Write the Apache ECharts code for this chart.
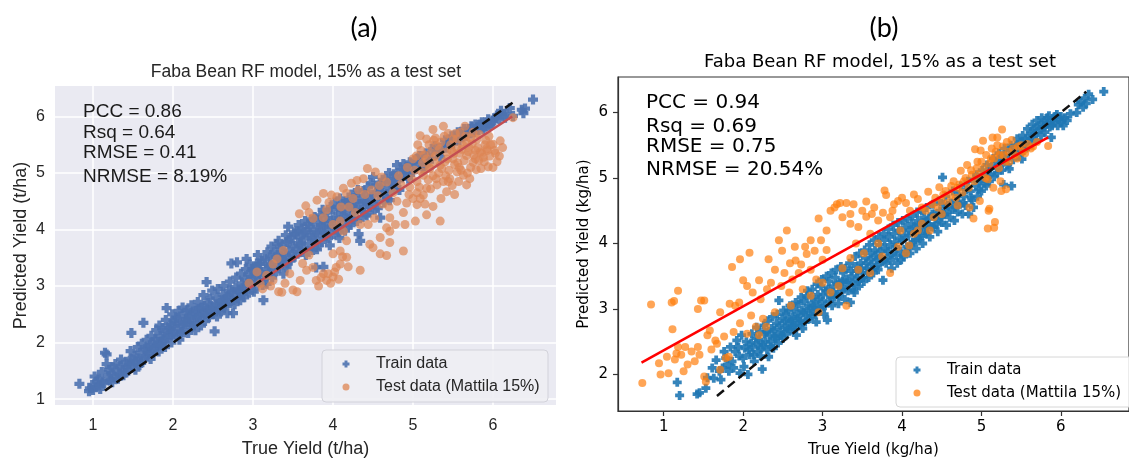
<!DOCTYPE html>
<html>
<head>
<meta charset="utf-8">
<script src="https://cdn.jsdelivr.net/npm/echarts@6/dist/echarts.min.js"></script>
<style>
  html, body { margin: 0; padding: 0; background: #ffffff; }
  #chart { width: 1129px; height: 463px; }
</style>
</head>
<body>
<div id="chart"></div>
<script>
// ---- Panel (a): true vs predicted yield, t/ha ----
const trainA = [
  [0.83,1.27],[0.95,1.14],[0.96,1.19],[0.99,1.25],[1.00,1.16],[1.03,1.22],[1.05,1.31],[1.07,1.36],[1.08,1.24],[1.11,1.48],
  [1.12,1.30],[1.15,1.82],[1.17,1.79],[1.17,1.62],[1.19,1.41],[1.21,1.33],[1.23,1.45],[1.25,1.56],[1.27,1.38],[1.30,1.49],
  [1.33,1.44],[1.34,1.59],[1.37,1.52],[1.40,1.47],[1.42,1.56],[1.45,1.61],[1.46,1.68],[1.48,2.17],[1.50,1.58],[1.52,1.77],
  [1.54,1.66],[1.57,1.72],[1.59,1.82],[1.60,1.64],[1.63,2.35],[1.65,1.88],[1.66,1.76],[1.69,1.91],[1.70,1.80],[1.72,1.71],
  [1.75,2.00],[1.76,1.86],[1.78,2.06],[1.80,1.94],[1.82,1.84],[1.84,2.11],[1.86,2.02],[1.88,2.17],[1.90,1.92],[1.92,2.61],
  [1.93,2.08],[1.95,2.27],[1.96,2.23],[1.98,2.00],[2.00,2.14],[2.02,2.38],[2.03,2.35],[2.05,2.11],[2.06,2.24],[2.08,2.05],
  [2.09,2.46],[2.11,2.30],[2.13,2.32],[2.14,2.18],[2.16,2.42],[2.17,2.52],[2.19,2.17],[2.20,2.36],[2.22,2.27],[2.24,2.48],
  [2.25,2.55],[2.27,2.35],[2.28,2.22],[2.30,2.44],[2.32,2.60],[2.34,2.41],[2.35,2.30],[2.37,2.52],[2.39,2.66],[2.40,2.38],
  [2.42,3.07],[2.43,2.58],[2.45,2.45],[2.46,2.78],[2.48,2.61],[2.50,2.50],[2.52,2.20],[2.53,2.68],[2.55,2.46],[2.57,2.62],
  [2.59,2.70],[2.60,2.55],[2.62,2.85],[2.64,2.64],[2.66,2.76],[2.67,2.81],[2.68,2.52],[2.70,2.92],[2.72,2.70],[2.73,3.40],
  [2.75,2.52],[2.76,2.84],[2.78,2.98],[2.80,3.42],[2.81,2.78],[2.83,2.90],[2.84,2.75],[2.86,3.05],[2.88,2.86],[2.90,3.12],
  [2.92,3.48],[2.92,2.99],[2.94,3.20],[2.95,2.88],[2.97,3.08],[2.99,3.30],[3.00,3.28],[3.02,2.96],[3.03,3.18],[3.05,3.40],
  [3.07,3.10],[3.09,3.39],[3.10,3.25],[3.12,3.02],[3.13,2.75],[3.15,3.48],[3.16,3.30],[3.17,3.04],[3.19,3.20],[3.21,3.51],
  [3.22,3.38],[3.24,3.15],[3.26,3.60],[3.27,3.42],[3.29,3.26],[3.30,3.74],[3.31,3.55],[3.33,3.35],[3.35,3.65],[3.36,3.48],
  [3.38,3.22],[3.40,3.58],[3.42,3.33],[3.42,3.78],[3.44,4.05],[3.45,3.62],[3.47,3.45],[3.48,3.86],[3.50,3.70],[3.52,3.52],
  [3.53,3.92],[3.55,3.97],[3.56,3.76],[3.58,3.60],[3.59,3.86],[3.61,4.02],[3.62,3.68],[3.64,3.84],[3.66,3.55],[3.67,3.95],
  [3.69,4.10],[3.70,3.75],[3.72,3.90],[3.73,4.18],[3.75,3.64],[3.76,4.00],[3.78,3.82],[3.79,3.33],[3.80,3.65],[3.81,4.12],
  [3.83,3.94],[3.84,4.25],[3.86,3.78],[3.88,3.34],[3.88,4.05],[3.90,4.20],[3.91,3.88],[3.93,4.30],[3.95,4.00],[3.96,3.72],
  [3.98,4.15],[4.00,4.35],[4.01,3.92],[4.03,4.22],[4.05,4.05],[4.06,4.40],[4.08,3.85],[4.10,4.28],[4.12,4.12],[4.13,4.45],
  [4.15,3.98],[4.17,4.33],[4.19,4.20],[4.20,4.52],[4.22,4.08],[4.24,4.40],[4.26,4.28],[4.28,4.60],[4.30,4.15],[4.32,3.92],
  [4.33,4.45],[4.34,3.80],[4.36,4.32],[4.38,4.68],[4.40,4.50],[4.42,4.25],[4.44,4.75],[4.46,4.40],[4.48,4.58],[4.50,4.93],
  [4.52,4.35],[4.55,4.66],[4.57,4.50],[4.59,4.21],[4.60,4.80],[4.63,4.62],[4.66,4.90],[4.68,4.55],[4.71,4.52],[4.73,4.85],
  [4.76,4.98],[4.78,4.73],[4.80,5.14],[4.82,4.88],[4.85,5.05],[4.88,5.16],[4.90,4.95],[4.92,5.10],[4.94,4.90],[4.96,5.19],
  [4.98,5.02],[5.02,5.22],[5.05,5.14],[5.08,5.30],[5.12,5.08],[5.16,5.35],[5.20,5.20],[5.25,5.42],[5.30,5.37],[5.34,5.28],
  [5.38,5.50],[5.42,5.45],[5.46,5.58],[5.50,5.52],[5.54,5.64],[5.58,5.58],[5.62,5.70],[5.66,5.66],[5.70,5.78],[5.73,5.83],
  [5.76,5.72],[5.80,5.80],[5.84,5.86],[5.88,5.78],[5.92,5.89],[5.96,5.84],[6.00,5.92],[6.03,5.98],[6.08,5.95],[6.12,6.04],
  [6.17,6.04],[6.21,6.15],[6.25,6.01],[6.36,6.12],[6.38,6.06],[6.50,6.30],
  [1.02,1.40],[1.09,1.18],[1.14,1.28],[1.20,1.52],[1.24,1.30],[1.28,1.62],[1.31,1.36],[1.35,1.70],[1.38,1.42],[1.41,1.66],
  [1.44,1.50],[1.47,1.85],[1.51,1.70],[1.53,1.52],[1.56,1.92],[1.58,1.60],[1.61,1.98],[1.64,1.70],[1.67,2.05],[1.68,1.84],
  [1.71,1.95],[1.73,2.12],[1.77,1.92],[1.79,2.22],[1.81,2.00],[1.83,2.30],[1.85,1.95],[1.87,2.26],[1.89,2.05],[1.91,2.40],
  [1.94,2.15],[1.97,2.32],[1.99,2.50],[2.01,2.20],[2.04,2.44],[2.07,2.56],[2.10,2.18],[2.12,2.62],[2.15,2.36],[2.18,2.58],
  [2.21,2.44],[2.23,2.66],[2.26,2.30],[2.29,2.56],[2.31,2.72],[2.33,2.48],[2.36,2.62],[2.38,2.84],[2.41,2.50],[2.44,2.70],
  [2.47,2.56],[2.49,2.92],[2.51,2.62],[2.54,2.80],[2.56,2.95],[2.58,2.58],[2.61,2.74],[2.63,3.00],[2.65,2.68],[2.69,2.82],
  [2.71,3.08],[2.74,2.90],[2.77,2.68],[2.79,3.15],[2.82,2.94],[2.85,3.22],[2.87,2.96],[2.89,2.80],[2.91,3.30],[2.93,3.05],
  [2.96,3.38],[2.98,3.16],[3.01,2.90],[3.04,3.34],[3.06,3.55],[3.08,3.22],[3.11,3.45],[3.14,3.12],[3.18,3.60],[3.20,3.35],
  [3.23,3.70],[3.25,3.28],[3.28,3.52],[3.32,3.80],[3.34,3.42],[3.37,3.72],[3.39,3.50],[3.41,3.90],[3.43,3.40],[3.46,3.80],
  [3.49,3.55],[3.51,3.95],[3.54,3.66],[3.57,4.08],[3.60,3.75],[3.63,3.95],[3.65,4.15],[3.68,3.62],[3.71,4.05],[3.74,3.85],
  [3.77,4.22],[3.80,3.95],[3.82,3.72],[3.85,4.08],[3.87,4.35],[3.89,3.95],[3.92,4.12],[3.94,3.85],[3.97,4.40],[3.99,4.05],
  [4.02,4.48],[4.04,4.15],[4.07,3.95],[4.09,4.55],[4.11,4.35],[4.14,4.22],[4.16,4.50],[4.18,4.05],[4.21,4.42],[4.23,4.62],
  [4.25,4.18],[4.27,4.48],[4.29,4.35],[4.31,4.70],[4.35,4.55],[4.37,4.22],[4.39,4.40],[4.41,4.62],[4.43,4.48],[4.45,4.30],
  [4.47,4.82],[4.49,4.62],[4.51,4.45],[4.54,4.78],[4.56,4.38],[4.58,4.70],[4.62,4.88],[4.64,4.48],[4.67,4.75],[4.70,5.00],
  [4.72,4.68],[4.75,4.82],[4.79,4.95],[4.83,4.70],[4.86,4.92],[4.89,5.06],[4.93,5.00],[4.97,5.08],[5.00,5.02],[5.06,5.26],
  [5.10,5.20],[5.14,5.12],[5.18,5.30],[5.23,5.26],[5.27,5.48],[5.32,5.44],[5.36,5.40],[5.40,5.58],[5.44,5.52],[5.48,5.65],
  [5.52,5.60],[5.56,5.72],[5.60,5.66],[5.64,5.78],[5.68,5.72],[5.72,5.70],[5.78,5.86],[5.82,5.76],[5.86,5.90],[5.90,5.82],
  [5.94,5.95],[5.98,5.88],[6.05,6.02],[6.10,6.10],[6.15,5.98],[6.40,6.14]
];
const testA = [
  [2.95,3.05],[3.05,3.25],[3.09,3.04],[3.12,2.95],[3.17,3.19],[3.22,3.00],[3.25,3.39],[3.25,3.10],[3.30,3.48],[3.32,2.90],
  [3.36,2.89],[3.38,3.63],[3.40,3.05],[3.46,3.22],[3.50,2.93],[3.55,2.90],[3.59,3.10],[3.62,3.40],[3.67,3.28],[3.70,3.55],
  [3.75,3.33],[3.79,3.10],[3.82,3.00],[3.85,3.15],[3.88,3.22],[3.92,3.10],[3.94,3.22],[3.97,3.05],[4.00,3.16],[4.02,3.25],
  [4.04,3.33],[4.07,3.12],[4.09,3.39],[4.12,3.52],[4.17,3.51],[4.19,3.34],[4.00,3.57],[4.09,3.62],[4.34,3.28],[4.46,3.74],
  [4.50,3.68],[4.59,3.57],[4.67,3.54],[4.71,3.77],[4.88,3.62],[4.17,3.80],[4.59,3.86],[4.13,3.97],[4.71,3.97],[4.00,4.09],
  [4.09,4.15],[4.34,4.09],[4.44,4.09],[4.67,4.03],[4.78,4.09],[4.90,4.09],[5.03,4.15],[5.17,4.26],[5.25,4.41],[5.34,4.15],
  [3.88,4.21],[4.71,4.21],[4.92,4.47],[5.05,4.44],[5.09,4.55],
  [3.66,4.42],[3.80,4.52],[3.88,4.64],[3.98,4.61],[4.05,4.58],[4.13,4.73],[4.17,4.64],[4.23,4.82],[4.30,4.87],[4.38,4.90],
  [4.43,5.08],[4.53,5.02],[4.61,4.93],[4.67,4.84],[3.70,4.30],[3.95,4.48],[4.25,4.55],[4.48,4.70],[4.56,4.60],[4.75,4.65],
  [4.85,4.80],[4.95,4.62],[3.58,4.28],
  [5.09,5.66],[5.17,5.60],[5.25,5.77],[5.38,5.83],[5.30,5.48],[5.42,5.37],[5.55,5.43],[5.67,5.31],[5.75,5.19],[5.84,5.37],
  [5.92,5.43],[6.00,5.51],[5.94,5.11],[5.82,5.22],[6.09,5.57],[6.25,5.98],[5.46,4.90],[5.55,5.02],[5.63,4.96],[5.67,4.79],
  [5.34,5.14],[5.21,5.08],[5.13,4.96],[5.17,5.25],[5.00,5.25],[5.30,4.79],[5.42,4.67],[5.17,4.73],[5.13,4.61],[5.50,5.60],
  [5.67,5.54],[5.59,5.72],[5.75,5.72],[5.65,5.83],[5.50,5.25],[5.05,4.85],[5.10,5.40],[5.20,5.50],[5.28,5.30],[5.35,5.55],
  [5.40,5.20],[5.45,5.05],[5.48,5.40],[5.52,5.15],[5.58,5.35],[5.60,5.05],[5.62,5.50],[5.70,5.45],[5.72,5.10],[5.78,5.40],
  [5.80,5.60],[5.88,5.28],[5.90,5.50],[5.96,5.30],[6.02,5.40],[6.05,5.20],[5.25,4.95],[5.32,5.00],[5.38,4.85],[5.22,4.72],
  [5.05,4.65],[4.98,4.90],[5.02,5.05],[5.12,5.18],[5.35,4.55],[5.28,5.62],[5.44,5.70],[5.55,5.60],[5.72,5.62],[5.85,5.08],
  [6.12,5.45],[5.95,5.65],[5.68,5.00],[5.78,5.25],[6.00,5.10],
  [5.06,5.50],[5.11,5.02],[5.14,5.32],[5.19,4.88],[5.23,5.36],[5.27,5.18],[5.29,4.90],[5.33,5.42],[5.36,5.08],[5.39,5.65],
  [5.41,4.95],[5.43,5.25],[5.47,5.50],[5.49,4.78],[5.51,5.35],[5.53,5.70],[5.56,5.18],[5.57,4.85],[5.61,5.42],[5.64,5.22],
  [5.66,5.65],[5.69,5.38],[5.71,4.90],[5.74,5.52],[5.76,5.32],[5.79,5.06],[5.81,5.45],[5.83,5.68],[5.86,5.35],[5.89,5.20],
  [5.91,5.58],[5.93,5.40],[5.97,5.50],[6.03,5.35],[6.08,5.30],[4.93,5.10],[4.96,4.75],[5.00,4.55],[5.04,5.30],[5.08,4.75],
  [5.15,4.45],[5.20,5.10],[5.26,5.58],[5.44,4.85],[5.52,4.62],[5.58,5.10],[4.62,4.45],[4.70,4.40],[4.80,4.50],[4.88,4.30],
  [4.82,4.95],[4.58,4.78],[4.40,4.62],[4.32,4.70],[4.20,4.40],[4.10,4.40],[3.92,4.35],[3.75,4.20],[4.28,4.30],[4.52,4.20]
];
const identityA = [[1.15, 1.15], [6.25, 6.25]];
const fitA = [[2.92, 2.93], [6.24, 6.00]];
const statsA = ['PCC = 0.86', 'Rsq = 0.64', 'RMSE = 0.41', 'NRMSE = 8.19%'];

// ---- Panel (b): true vs predicted yield, kg/ha ----
const trainB = [
  [1.17,1.88],[1.20,1.68],[1.42,1.70],[1.45,1.72],[1.53,1.79],[1.61,2.10],[1.63,1.94],[1.70,2.05],[1.74,2.10],[1.78,2.25],
  [1.82,2.05],[1.86,2.20],[1.90,2.35],[1.94,2.42],[1.96,2.02],[2.00,2.25],[2.02,2.40],[2.06,2.00],[2.08,2.30],[2.10,2.48],
  [2.12,2.42],[2.14,2.20],[2.16,2.55],[2.18,2.35],[2.20,2.53],[2.22,2.28],[2.24,2.08],[2.25,2.45],[2.27,2.62],[2.29,2.65],
  [2.30,2.38],[2.32,2.27],[2.34,2.50],[2.36,2.70],[2.38,2.40],[2.40,2.58],[2.42,2.78],[2.44,2.48],[2.45,3.13],[2.47,2.65],
  [2.49,2.85],[2.50,2.55],[2.52,2.72],[2.54,2.92],[2.55,2.62],[2.57,2.98],[2.58,2.80],[2.60,2.68],[2.62,2.88],[2.64,3.00],
  [2.65,2.75],[2.67,2.60],[2.68,2.92],[2.70,3.08],[2.72,2.82],[2.74,2.98],[2.75,2.70],[2.77,3.12],[2.79,2.90],[2.81,3.28],
  [2.82,3.05],[2.84,2.85],[2.86,3.18],[2.88,2.98],[2.90,3.10],[2.92,2.80],[2.94,3.22],[2.96,3.02],[2.98,3.35],[3.00,3.12],
  [3.02,2.92],[3.04,3.28],[3.06,2.83],[3.08,3.42],[3.10,3.18],[3.12,3.05],[3.14,3.35],[3.16,3.48],[3.18,3.22],[3.20,3.08],
  [3.22,3.40],[3.24,3.30],[3.26,3.55],[3.28,3.15],[3.30,3.45],[3.32,3.28],[3.35,3.10],[3.36,3.58],[3.38,3.40],[3.40,3.25],
  [3.42,3.65],[3.44,3.48],[3.46,3.35],[3.48,3.70],[3.50,3.55],[3.52,3.42],[3.54,3.78],[3.56,3.62],[3.58,3.48],[3.60,3.85],
  [3.62,3.68],[3.64,3.55],[3.66,3.90],[3.68,3.75],[3.70,3.60],[3.72,3.98],[3.74,3.80],[3.76,3.44],[3.78,4.05],[3.80,3.70],
  [3.82,3.88],[3.84,4.10],[3.86,3.75],[3.88,3.84],[3.90,4.15],[3.92,3.95],[3.94,3.70],[3.96,4.20],[3.98,3.88],[4.00,4.05],
  [4.02,3.80],[4.04,4.25],[4.06,3.95],[4.08,4.12],[4.10,3.85],[4.12,4.30],[4.14,4.02],[4.16,4.18],[4.18,3.92],[4.20,4.35],
  [4.22,4.08],[4.24,4.25],[4.26,4.00],[4.28,4.40],[4.30,4.15],[4.32,4.30],[4.35,4.10],[4.38,4.45],[4.40,4.25],[4.42,4.38],
  [4.45,4.18],[4.48,4.50],[4.50,4.32],[4.51,5.01],[4.53,4.45],[4.56,4.28],[4.58,4.58],[4.60,4.40],[4.63,4.52],[4.66,4.35],
  [4.68,4.65],[4.70,4.48],[4.73,4.60],[4.76,4.45],[4.78,4.72],[4.80,4.58],[4.84,4.45],[4.86,4.80],[4.88,4.66],[4.90,4.55],
  [4.93,4.88],[4.95,4.72],[4.98,4.95],[5.00,4.80],[5.03,5.02],[5.06,4.88],[5.08,5.10],[5.10,4.95],[5.13,5.18],[5.16,5.02],
  [5.18,5.25],[5.20,5.08],[5.23,5.30],[5.26,5.12],[5.28,4.90],[5.30,5.35],[5.33,5.20],[5.35,5.14],[5.36,5.42],[5.38,4.88],
  [5.40,5.28],[5.43,5.50],[5.46,5.35],[5.49,5.55],[5.51,5.29],[5.53,5.42],[5.56,5.60],[5.59,5.48],[5.62,5.68],[5.63,5.52],
  [5.66,5.75],[5.69,5.58],[5.72,5.80],[5.75,5.65],[5.78,5.85],[5.80,5.70],[5.83,5.92],[5.86,5.78],[5.88,5.62],[5.90,5.88],
  [5.93,5.94],[5.96,5.80],[5.98,5.90],[6.01,5.85],[6.05,5.92],[6.08,5.88],[6.20,6.00],[6.22,6.12],[6.25,6.16],[6.30,6.22],
  [6.35,6.28],[6.40,6.20],[6.54,6.32],
  [1.55,1.95],[1.66,2.22],[1.72,1.92],[1.76,2.35],[1.80,2.15],[1.84,2.42],[1.88,2.10],[1.92,2.52],[1.95,2.28],[1.98,2.60],
  [2.01,2.12],[2.04,2.50],[2.07,2.38],[2.11,2.62],[2.13,2.30],[2.17,2.72],[2.19,2.45],[2.21,2.65],[2.23,2.40],[2.26,2.75],
  [2.28,2.50],[2.31,2.82],[2.33,2.60],[2.35,2.42],[2.37,2.88],[2.39,2.68],[2.41,2.55],[2.43,2.92],[2.46,2.75],[2.48,2.60],
  [2.51,2.98],[2.53,2.82],[2.56,2.70],[2.59,3.05],[2.61,2.82],[2.63,2.72],[2.66,3.10],[2.69,2.86],[2.71,2.76],[2.73,3.18],
  [2.76,2.95],[2.78,2.80],[2.80,3.20],[2.83,3.00],[2.85,2.90],[2.87,3.30],[2.89,3.05],[2.91,2.92],[2.93,3.38],[2.95,3.15],
  [2.97,3.00],[2.99,3.45],[3.01,3.22],[3.03,3.05],[3.05,3.50],[3.07,3.30],[3.09,3.12],[3.11,3.55],[3.13,3.25],[3.15,3.18],
  [3.17,3.60],[3.19,3.38],[3.21,3.20],[3.23,3.65],[3.25,3.42],[3.27,3.30],[3.29,3.62],[3.31,3.40],[3.34,3.70],[3.37,3.50],
  [3.39,3.30],[3.41,3.80],[3.43,3.58],[3.45,3.42],[3.47,3.85],[3.49,3.62],[3.51,3.48],[3.53,3.90],[3.55,3.70],[3.57,3.55],
  [3.59,3.98],[3.61,3.76],[3.63,3.60],[3.65,4.05],[3.67,3.82],[3.69,3.66],[3.71,4.10],[3.73,3.88],[3.75,3.72],[3.77,4.15],
  [3.79,3.92],[3.81,3.78],[3.83,4.22],[3.85,3.98],[3.87,3.62],[3.89,4.28],[3.91,4.02],[3.93,3.82],[3.95,4.32],[3.97,4.08],
  [3.99,3.75],[4.01,4.35],[4.03,4.12],[4.05,3.88],[4.07,4.38],[4.09,4.20],[4.11,3.98],[4.13,4.42],[4.15,4.25],[4.17,4.05],
  [4.19,4.48],[4.21,4.28],[4.23,4.12],[4.25,4.50],[4.27,4.32],[4.29,4.20],[4.31,4.55],[4.34,4.38],[4.37,4.25],[4.39,4.60],
  [4.41,4.45],[4.44,4.30],[4.46,4.65],[4.49,4.40],[4.52,4.60],[4.55,4.72],[4.57,4.48],[4.61,4.62],[4.64,4.80],[4.67,4.55],
  [4.71,4.75],[4.74,4.88],[4.77,4.62],[4.81,4.82],[4.83,4.95],[4.87,4.70],[4.91,4.98],[4.94,5.05],[4.97,4.82],[5.01,5.12],
  [5.04,4.92],[5.07,5.20],[5.11,5.05],[5.15,5.30],[5.19,5.15],[5.22,5.38],[5.25,5.22],[5.29,5.45],[5.32,5.30],[5.37,5.50],
  [5.41,5.40],[5.45,5.60],[5.48,5.45],[5.52,5.65],[5.55,5.50],[5.58,5.75],[5.61,5.60],[5.64,5.82],[5.67,5.68],[5.70,5.88],
  [5.73,5.74],[5.76,5.92],[5.79,5.78],[5.82,5.84],[5.85,5.95],[5.89,5.80],[5.92,5.86],[5.95,5.97],[6.00,5.94],[6.03,5.80],
  [6.12,5.98],[6.28,6.08],[6.32,6.14]
];
const testB = [
  [0.73,1.87],[0.84,3.07],[0.94,2.17],[0.96,2.00],[1.04,2.27],[1.06,2.02],[1.10,3.10],[1.11,2.69],[1.13,3.12],[1.14,2.23],
  [1.16,2.32],[1.18,3.28],[1.18,2.42],[1.22,2.30],[1.25,2.05],[1.27,2.42],[1.30,2.15],[1.35,2.35],[1.39,2.20],[1.43,3.00],
  [1.43,2.42],[1.45,2.30],[1.47,3.13],[1.51,3.13],[1.51,1.97],[1.53,1.89],[1.55,2.60],[1.58,2.67],[1.60,2.38],[1.65,2.52],
  [1.67,2.47],[1.71,2.07],[1.71,2.95],[1.76,2.58],[1.78,2.25],[1.82,2.27],[1.83,3.08],[1.86,3.64],[1.88,2.65],[1.90,3.05],
  [1.96,2.78],[1.96,3.76],[2.00,3.44],[2.05,3.35],[2.08,3.86],[2.10,2.90],[2.16,2.73],[2.20,2.60],[2.20,3.44],[2.22,3.15],
  [2.29,2.73],[2.32,3.76],[2.35,3.40],[2.40,3.60],[2.45,4.05],[2.49,3.89],[2.52,3.55],[2.55,4.20],[2.59,3.70],[2.62,3.45],
  [2.66,3.74],[2.70,3.55],[2.73,3.68],[2.78,3.95],[2.80,3.84],[2.85,3.60],[2.90,3.89],[2.95,4.38],[2.98,4.05],[3.05,4.20],
  [3.00,3.75],[3.10,4.50],[3.15,4.55],[3.18,4.60],[3.22,4.62],[3.25,4.40],[3.30,4.62],[3.35,4.30],[3.39,4.60],[3.42,4.00],
  [3.45,4.25],[3.50,4.50],[3.55,4.64],[3.55,4.41],[3.60,4.15],[3.65,4.55],[3.70,4.35],[3.76,4.47],[3.78,4.81],[3.80,4.74],
  [3.85,4.40],[3.90,4.60],[3.95,4.65],[4.00,4.70],[4.05,4.62],[4.10,4.50],[4.15,4.75],[4.20,4.68],[4.25,4.55],[4.33,4.79],
  [4.38,4.60],[4.42,4.70],[4.47,4.86],[4.50,4.65],[4.55,4.80],[4.61,4.73],[4.65,4.95],[4.70,4.85],[4.74,5.11],[4.78,4.95],
  [4.82,5.20],[4.85,4.55],[4.88,5.05],[4.90,4.38],[4.92,5.44],[4.95,5.25],[4.99,5.42],[5.02,5.57],[5.05,5.00],[5.08,4.98],
  [5.08,4.23],[5.10,4.53],[5.12,5.30],[5.14,5.62],[5.17,4.33],[5.18,5.40],[5.22,5.15],[5.25,4.80],[5.26,5.74],[5.28,5.35],
  [5.31,4.83],[5.32,5.55],[5.35,5.25],[5.40,5.45],[5.45,5.30],[5.50,5.50],[5.55,5.38],[5.62,5.45],[5.70,5.55],[5.84,5.49],
  [3.10,3.25],[3.30,3.05],[3.45,3.60],[3.60,3.55],[3.75,3.80],[3.85,3.55],[3.95,3.95],[4.05,3.85],[4.09,3.97],[4.15,4.15],
  [4.25,4.30],[4.35,4.20],[4.50,4.45],[2.85,3.20],[3.00,3.40],[2.95,2.95],[3.20,3.35],[5.09,4.50],[5.16,4.24],
  [4.30,4.50],[4.45,4.55],[4.52,4.75],[4.58,4.62],[4.62,4.88],[4.68,4.70],[4.72,4.90],[4.76,4.78],[4.80,5.00],[4.84,4.85],
  [4.87,5.12],[4.91,4.95],[4.94,5.15],[4.97,5.05],[5.00,5.25],[5.03,5.15],[5.06,5.35],[5.10,5.22],[5.13,5.45],[5.16,5.30],
  [5.20,5.50],[5.23,5.35],[5.27,5.48],[5.30,5.25],[5.34,5.40],[5.38,5.58],[5.42,5.35],[5.46,5.48],[5.52,5.40],[5.58,5.52],
  [5.65,5.48],[5.20,5.62],[5.24,4.95],[5.15,4.85],[4.98,4.65],[4.70,4.58],[4.40,4.40],[4.20,4.20],[3.98,4.20],[3.70,4.00],
  [3.52,3.85],[3.35,3.78],[3.25,3.62],[2.92,3.45],[2.75,3.30],[2.60,3.05],[2.40,2.95],[2.25,2.85],[2.05,2.62],[1.95,3.10],
  [2.12,3.25],[2.30,3.30],[2.48,3.35],[2.58,3.25],[2.65,3.95],[2.85,4.05],[3.05,3.90],[3.35,4.45],[3.62,4.45],[3.88,4.50]
];
const identityB = [[1.67, 1.67], [6.32, 6.32]];
const fitB = [[0.72, 2.18], [5.84, 5.62]];
const statsB = ['PCC = 0.94', 'Rsq = 0.69', 'RMSE = 0.75', 'NRMSE = 20.54%'];

// ---- shared labels ----
const xTicks = [1, 2, 3, 4, 5, 6];
const yTicksA = [1, 2, 3, 4, 5, 6];
const yTicksB = [2, 3, 4, 5, 6];
const panelTitle = 'Faba Bean RF model, 15% as a test set';
const trainName = 'Train data';
const testName = 'Test data (Mattila 15%)';

// filled "plus" marker, arm width 0.42 of the box
const plusMarker = 'path://M0.29,0H0.71V0.29H1V0.71H0.71V1H0.29V0.71H0V0.29H0.29Z';

const FONT_A = 'Liberation Sans, Arial, sans-serif';
const FONT_B = 'DejaVu Sans, sans-serif';
const INK_A = '#262626';

const colA = { train: '#4C72B0', test: '#DD8452', fit: '#C44E52' };
const colB = { train: '#1f77b4', test: '#ff7f0e', fit: '#ff0000' };

function statTexts(lines, x, ys, font, color) {
  return lines.map((t, i) => ({
    type: 'text', x: x, y: ys[i], z: 20, silent: true,
    style: { text: t, font: font, fill: color, align: 'left', verticalAlign: 'middle' }
  }));
}

// plus-shaped legend glyph centred on (cx, cy), half-size h
function plusGlyph(cx, cy, h) {
  const a = h * 0.42;
  return [
    [cx - a, cy - h], [cx + a, cy - h], [cx + a, cy - a], [cx + h, cy - a], [cx + h, cy + a], [cx + a, cy + a],
    [cx + a, cy + h], [cx - a, cy + h], [cx - a, cy + a], [cx - h, cy + a], [cx - h, cy - a], [cx - a, cy - a]
  ];
}

// legend block: frame, marker glyphs and the two entry labels
function legendBlock(box, markerX, textX, rowY, colors, font, ink, frame) {
  return [
    { type: 'rect', z: 15, silent: true,
      shape: { x: box[0], y: box[1], width: box[2], height: box[3], r: 4 },
      style: { fill: frame.fill, stroke: frame.stroke, lineWidth: 1 } },
    { type: 'polygon', z: 16, silent: true,
      shape: { points: plusGlyph(markerX, rowY[0], 3.5) },
      style: { fill: colors.train, opacity: 0.9 } },
    { type: 'circle', z: 16, silent: true,
      shape: { cx: markerX, cy: rowY[1], r: 3.5 },
      style: { fill: colors.test, opacity: 0.75 } },
    { type: 'text', z: 16, silent: true, x: textX, y: rowY[0],
      style: { text: trainName, font: font, fill: ink, align: 'left', verticalAlign: 'middle' } },
    { type: 'text', z: 16, silent: true, x: textX, y: rowY[1],
      style: { text: testName, font: font, fill: ink, align: 'left', verticalAlign: 'middle' } }
  ];
}

const chart = echarts.init(document.getElementById('chart'), null, { renderer: 'canvas' });

chart.setOption({
  animation: false,
  backgroundColor: '#ffffff',
  grid: [
    { left: 55, top: 86, width: 501, height: 324, show: true, backgroundColor: '#EAEAF2', borderWidth: 0 },
    { left: 618, top: 77, width: 525, height: 338, show: true, backgroundColor: 'transparent', borderColor: '#333333', borderWidth: 1.2 }
  ],
  xAxis: [
    {
      gridIndex: 0, type: 'value', min: 0.525, max: 6.7875,
      axisLine: { show: false },
      axisTick: { show: false, customValues: xTicks },
      axisLabel: { customValues: xTicks, color: INK_A, fontSize: 16, fontFamily: FONT_A, margin: 13 },
      splitLine: { show: true, lineStyle: { color: '#ffffff', width: 1.5 } },
      name: 'True Yield (t/ha)', nameLocation: 'middle', nameGap: 35,
      nameTextStyle: { color: INK_A, fontSize: 18, fontFamily: FONT_A }
    },
    {
      gridIndex: 1, type: 'value', min: 0.424, max: 6.858,
      axisLine: { show: true, lineStyle: { color: '#333333', width: 1.2 } },
      axisTick: { show: true, customValues: xTicks, length: 5, lineStyle: { color: '#333333', width: 1.2 } },
      axisLabel: { customValues: xTicks, color: '#000000', fontSize: 15, fontFamily: FONT_B, margin: 9 },
      splitLine: { show: false },
      name: 'True Yield (kg/ha)', nameLocation: 'middle', nameGap: 32,
      nameTextStyle: { color: '#000000', fontSize: 15, fontFamily: FONT_B }
    }
  ],
  yAxis: [
    {
      gridIndex: 0, type: 'value', min: 0.8955, max: 6.540,
      axisLine: { show: false },
      axisTick: { show: false, customValues: yTicksA },
      axisLabel: { customValues: yTicksA, color: INK_A, fontSize: 16, fontFamily: FONT_A, margin: 10 },
      splitLine: { show: true, lineStyle: { color: '#ffffff', width: 1.5 } },
      name: 'Predicted Yield (t/ha)', nameLocation: 'middle', nameGap: 25,
      nameTextStyle: { color: INK_A, fontSize: 18, fontFamily: FONT_A }
    },
    {
      gridIndex: 1, type: 'value', min: 1.4415, max: 6.543,
      axisLine: { show: true, lineStyle: { color: '#333333', width: 1.2 } },
      axisTick: { show: true, customValues: yTicksB, length: 5, lineStyle: { color: '#333333', width: 1.2 } },
      axisLabel: { customValues: yTicksB, color: '#000000', fontSize: 15, fontFamily: FONT_B, margin: 10 },
      splitLine: { show: false },
      name: 'Predicted Yield (kg/ha)', nameLocation: 'middle', nameGap: 26,
      nameTextStyle: { color: '#000000', fontSize: 15, fontFamily: FONT_B }
    }
  ],
  graphic: [
    // panel letters
    { type: 'text', x: 364, y: 28, z: 20, silent: true,
      style: { text: '(a)', font: '27px Lato, Carlito, sans-serif', fill: '#000000', align: 'center', verticalAlign: 'middle' } },
    { type: 'text', x: 884, y: 28, z: 20, silent: true,
      style: { text: '(b)', font: '27px Lato, Carlito, sans-serif', fill: '#000000', align: 'center', verticalAlign: 'middle' } },
    // panel titles
    { type: 'text', x: 306, y: 72, z: 20, silent: true,
      style: { text: panelTitle, font: '17.5px ' + FONT_A, fill: INK_A, align: 'center', verticalAlign: 'middle' } },
    { type: 'text', x: 880, y: 62, z: 20, silent: true,
      style: { text: panelTitle, font: '18px ' + FONT_B, fill: '#000000', align: 'center', verticalAlign: 'middle' } }
  ]
    .concat(statTexts(statsA, 83, [112, 133, 153, 177], '19px ' + FONT_A, '#1a1a1a'))
    .concat(statTexts(statsB, 646, [103, 127, 147, 170], '20px ' + FONT_B, '#000000'))
    .concat(legendBlock([322, 350, 226, 52], 346, 376, [364, 387], colA, '16px ' + FONT_A, INK_A,
      { fill: 'rgba(238,238,243,0.9)', stroke: '#d2d2da' }))
    .concat(legendBlock([896, 357, 245, 50], 917, 947, [370, 393], colB, '15px ' + FONT_B, '#000000',
      { fill: 'rgba(255,255,255,0.85)', stroke: '#d6d6d6' })),
  series: [
    {
      name: trainName, type: 'scatter', xAxisIndex: 0, yAxisIndex: 0, data: trainA,
      symbol: plusMarker, symbolSize: 10, z: 2,
      itemStyle: { color: colA.train, opacity: 0.9 }
    },
    {
      name: testName, type: 'scatter', xAxisIndex: 0, yAxisIndex: 0, data: testA,
      symbol: 'circle', symbolSize: 9, z: 3,
      itemStyle: { color: colA.test, opacity: 0.7 }
    },
    {
      name: 'fit (a)', type: 'line', xAxisIndex: 0, yAxisIndex: 0, data: fitA,
      symbol: 'none', z: 4, lineStyle: { color: colA.fit, width: 2.5 }
    },
    {
      name: 'y = x (a)', type: 'line', xAxisIndex: 0, yAxisIndex: 0, data: identityA,
      symbol: 'none', z: 5, lineStyle: { color: '#111111', width: 2.5, type: [9, 5] }
    },
    {
      name: trainName, type: 'scatter', xAxisIndex: 1, yAxisIndex: 1, data: trainB,
      symbol: plusMarker, symbolSize: 9, z: 2,
      itemStyle: { color: colB.train, opacity: 0.9 }
    },
    {
      name: testName, type: 'scatter', xAxisIndex: 1, yAxisIndex: 1, data: testB,
      symbol: 'circle', symbolSize: 8, z: 3,
      itemStyle: { color: colB.test, opacity: 0.7 }
    },
    {
      name: 'fit (b)', type: 'line', xAxisIndex: 1, yAxisIndex: 1, data: fitB,
      symbol: 'none', z: 4, lineStyle: { color: colB.fit, width: 2.5 }
    },
    {
      name: 'y = x (b)', type: 'line', xAxisIndex: 1, yAxisIndex: 1, data: identityB,
      symbol: 'none', z: 5, lineStyle: { color: '#111111', width: 2.5, type: [9, 5] }
    }
  ]
});
</script>
</body>
</html>
